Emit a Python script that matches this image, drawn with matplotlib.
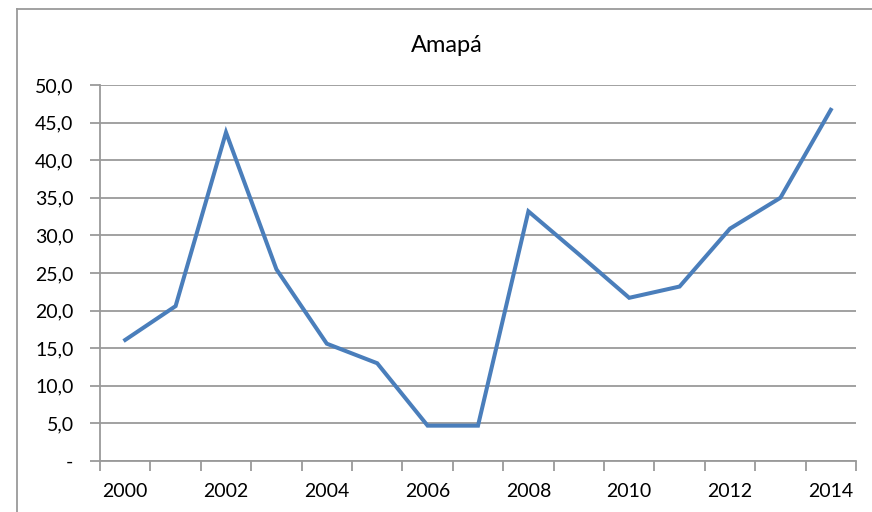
import matplotlib.pyplot as plt
from matplotlib.lines import Line2D
from matplotlib.ticker import FixedLocator, FuncFormatter

years = [2000, 2001, 2002, 2003, 2004, 2005, 2006, 2007,
         2008, 2009, 2010, 2011, 2012, 2013, 2014]
values = [16.1, 20.6, 43.7, 25.5, 15.6, 13.0, 4.7, 4.7,
          33.2, 27.5, 21.7, 23.2, 30.9, 35.0, 46.7]
title = 'Amapá'

plt.rcParams['font.family'] = ['Lato', 'DejaVu Sans']
grey = '#9a9a9a'

fig = plt.figure(figsize=(8.72, 5.12), dpi=100)
ax = fig.add_axes([100/872, 1 - 461/512, 756/872, 376/512])

x = list(range(len(years)))
ax.plot(x, values, color='#4A7EBB', lw=2.9, solid_joinstyle='miter')

ax.set_xlim(-0.5, len(years) - 0.5)
ax.set_ylim(0, 50)

# category boundaries get the tick marks, every other category a label
ax.xaxis.set_major_locator(FixedLocator([i - 0.5 for i in range(len(years) + 1)]))
ax.xaxis.set_major_formatter(FuncFormatter(lambda v, p: ''))
ax.xaxis.set_minor_locator(FixedLocator(x[::2]))
ax.xaxis.set_minor_formatter(FuncFormatter(lambda v, p: str(years[int(round(v))])))
ax.tick_params(axis='x', which='major', length=7, color=grey, width=1.3)
ax.tick_params(axis='x', which='minor', length=0, pad=16, labelsize=14)

ax.set_yticks(range(0, 51, 5))
ax.yaxis.set_major_formatter(FuncFormatter(
    lambda v, p: '-' if v == 0 else ('%.1f' % v).replace('.', ',')))
ax.tick_params(axis='y', length=7, color=grey, width=1.3, labelsize=14, pad=12)

ax.grid(axis='y', color=grey, lw=1.3)
ax.set_axisbelow(True)
for s in ['top', 'right']:
    ax.spines[s].set_visible(False)
for s in ['left', 'bottom']:
    ax.spines[s].set_color(grey)
    ax.spines[s].set_linewidth(1.3)

fig.text(447/872, 1 - 45/512, title, ha='center', va='center', fontsize=17)

# chart area border (cut off at right and bottom)
fig.add_artist(Line2D([17/872, 17/872], [0, 1 - 9/512], color=grey, lw=1.3))
fig.add_artist(Line2D([17/872, 1], [1 - 9/512, 1 - 9/512], color=grey, lw=1.3))

fig.savefig('out.png', dpi=100)
